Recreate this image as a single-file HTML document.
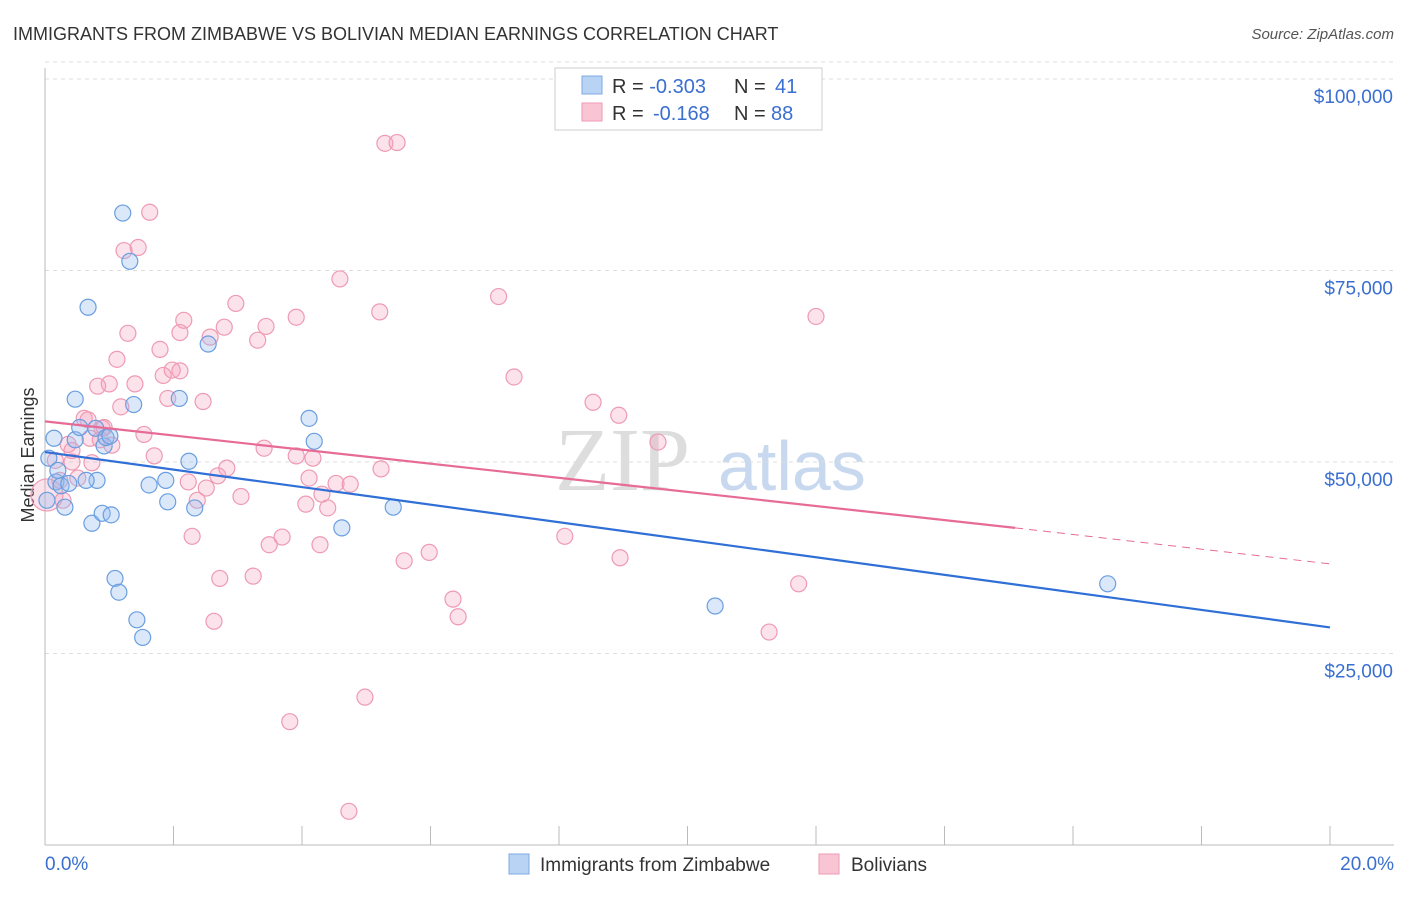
<!DOCTYPE html>
<html><head><meta charset="utf-8"><style>
body{margin:0;background:#fff;font-family:"Liberation Sans",sans-serif;}
</style></head><body>
<svg id="chart" width="1406" height="892" xmlns="http://www.w3.org/2000/svg" font-family="Liberation Sans, sans-serif">
<text x="13" y="40" font-size="18" fill="#333">IMMIGRANTS FROM ZIMBABWE VS BOLIVIAN MEDIAN EARNINGS CORRELATION CHART</text>
<text x="1394" y="39" font-size="15" fill="#555" text-anchor="end" font-style="italic">Source: ZipAtlas.com</text>
<text x="34" y="455" font-size="18" fill="#333" text-anchor="middle" transform="rotate(-90 34 455)">Median Earnings</text>
<text x="555" y="490" font-size="90" fill="#ddd" font-family="Liberation Serif, serif">ZIP</text>
<text x="718" y="490" font-size="70" fill="#c8d8ee">atlas</text>
<g id="grid"></g><g id="axes"></g><g id="pts"></g><g id="trend"></g>
<g>
<rect x="555" y="68" width="267" height="62" fill="#fff" stroke="#ccc"/>
<rect x="582" y="76" width="20" height="18" fill="#b9d3f5" stroke="#7da8e0"/>
<rect x="582" y="103" width="20" height="18" fill="#f9c5d4" stroke="#ee9ab3"/>
<text x="612" y="93" font-size="20" fill="#333">R = <tspan fill="#3a6fd0">-0.303</tspan><tspan x="734">N = </tspan><tspan fill="#3a6fd0" x="775">41</tspan></text>
<text x="612" y="120" font-size="20" fill="#333">R = <tspan fill="#3a6fd0" x="653">-0.168</tspan><tspan x="734">N = </tspan><tspan fill="#3a6fd0" x="771">88</tspan></text>
</g>
<g>
<rect x="509" y="854" width="20" height="20" fill="#b9d3f5" stroke="#7da8e0"/>
<text x="540" y="871" font-size="19" fill="#333">Immigrants from Zimbabwe</text>
<rect x="819" y="854" width="20" height="20" fill="#f9c5d4" stroke="#ee9ab3"/>
<text x="851" y="871" font-size="19" fill="#333">Bolivians</text>
</g>
</svg>
<script>
const blueX=[0.14,0.06,0.17,0.25,0.31,0.37,0.47,0.47,0.54,0.67,0.73,0.81,0.79,0.89,0.92,0.95,1.03,1.09,1.15,1.21,1.32,1.38,1.43,1.52,1.62,1.88,1.91,2.09,2.24,2.33,2.54,4.11,4.19,4.62,5.42,10.43,16.54,1.01,0.64,0.03,0.2];
const blueY=[53100,50500,47400,46900,44100,47200,52900,58200,54500,70200,42000,47600,54400,43300,52100,53200,43100,34800,33000,82500,76200,57500,29400,27100,47000,47600,44800,58300,50100,44000,65400,55700,52700,41400,44100,31200,34100,53400,47600,45000,48900];
const pinkX=[0.03,0.16,0.23,0.36,0.42,0.51,0.61,0.67,0.73,0.7,0.82,0.89,0.92,1.0,1.04,1.12,1.18,1.23,1.29,1.4,1.45,1.54,1.63,1.7,1.79,1.84,1.91,1.98,2.1,2.16,2.1,2.23,2.29,2.37,2.46,2.51,2.57,2.63,2.69,2.72,2.79,2.83,2.97,3.05,3.24,3.31,3.41,3.44,3.49,3.69,3.81,3.91,3.91,4.06,4.11,4.17,4.28,4.31,4.4,4.53,4.59,4.75,4.98,4.73,5.21,5.23,5.29,5.48,5.59,5.98,6.35,6.43,7.06,7.3,8.09,8.53,8.93,8.95,9.54,11.27,11.73,12.0,0.42,0.28,0.86];
const pinkY=[45700,50200,47600,52300,50000,47900,55700,55500,49900,53100,59900,54400,54500,60200,52200,63400,57200,77600,66800,60200,78000,53600,82600,50800,64700,61300,58300,62000,66900,68500,61900,47400,40300,45000,57900,46600,66300,29200,48200,34800,67600,49200,70700,45500,35100,65900,51800,67700,39200,40200,16100,68900,50800,44500,47900,50500,39200,45800,44000,47200,73900,47100,19300,4400,69600,49100,91600,91700,37100,38200,32100,29800,71600,61100,40300,57800,56100,37500,52600,27800,34100,69000,51500,45000,52900];
const yTicks=[25000,50000,75000,100000];
const yTickLabels=["$25,000","$50,000","$75,000","$100,000"];
const xTicks=[0,2,4,6,8,10,12,14,16,18,20];
const blueTrend=[[0,51300],[20,28400]];
const pinkTrendSolid=[[0,55300],[15.1,41400]];
const pinkTrendDash=[[15.1,41400],[20,36700]];
const X=v=>45+v/20*1285, Y=v=>845-v/100000*766;
const NS="http://www.w3.org/2000/svg";
function mk(p,t,a){const e=document.createElementNS(NS,t);for(const k in a)e.setAttribute(k,a[k]);p.appendChild(e);return e;}
const grid=document.getElementById('grid'),axes=document.getElementById('axes'),pts=document.getElementById('pts'),tr=document.getElementById('trend');
yTicks.forEach((v,i)=>{
 const l=mk(grid,'line',{x1:45,x2:1394,y1:Y(v),y2:Y(v),stroke:'#ddd','stroke-dasharray':'4,4'});
 
 
 const t=mk(axes,'text',{x:1393,y:Y(v)+24,'font-size':19,fill:'#3a6fd0','text-anchor':'end'});
 t.textContent=yTickLabels[i];
 
 
});
const tl=mk(grid,'line',{x1:45,x2:1394,y1:Y(100000)-17,y2:Y(100000)-17,stroke:'#ddd','stroke-dasharray':'4,4'});


const ya=mk(axes,'line',{x1:45,x2:45,y1:68,y2:845,stroke:'#bbb'});


const xa=mk(axes,'line',{x1:45,x2:1394,y1:845,y2:845,stroke:'#bbb'});


xTicks.forEach(v=>{
 const l=mk(axes,'line',{x1:X(v),x2:X(v),y1:826,y2:845,stroke:'#bbb'});
 
 
});
[[0,"0.0%",'start',45],[20,"20.0%",'end',1394]].forEach(a=>{
 const t=mk(axes,'text',{x:a[3],y:870,'font-size':19,fill:'#3a6fd0','text-anchor':a[2]});
 t.textContent=a[1];
 
 
});
pinkX.forEach((v,i)=>{
 const c=mk(pts,'circle',{cx:X(v),cy:Y(pinkY[i]),r:i==0?16:8,fill:'rgba(244,160,188,0.3)',stroke:'#ee9ab3','stroke-width':1.2});
 
 
});
blueX.forEach((v,i)=>{
 const c=mk(pts,'circle',{cx:X(v),cy:Y(blueY[i]),r:8,fill:'rgba(150,190,240,0.35)',stroke:'#6a9ee0','stroke-width':1.2});
 
 
});
function ln(d,col,w,dash,name){
 const l=mk(tr,'line',{x1:X(d[0][0]),y1:Y(d[0][1]),x2:X(d[1][0]),y2:Y(d[1][1]),stroke:col,'stroke-width':w});
 if(dash)l.setAttribute('stroke-dasharray',dash);
 
 
}
ln(blueTrend,'#2f6fd6',2.2,null,'zimbabwe-trendline');
ln(pinkTrendSolid,'#e76b97',2.2,null,'bolivian-trendline');
ln(pinkTrendDash,'#e76b97',1,'8,6','bolivian-trendline-extension');
</script>
</body></html>
